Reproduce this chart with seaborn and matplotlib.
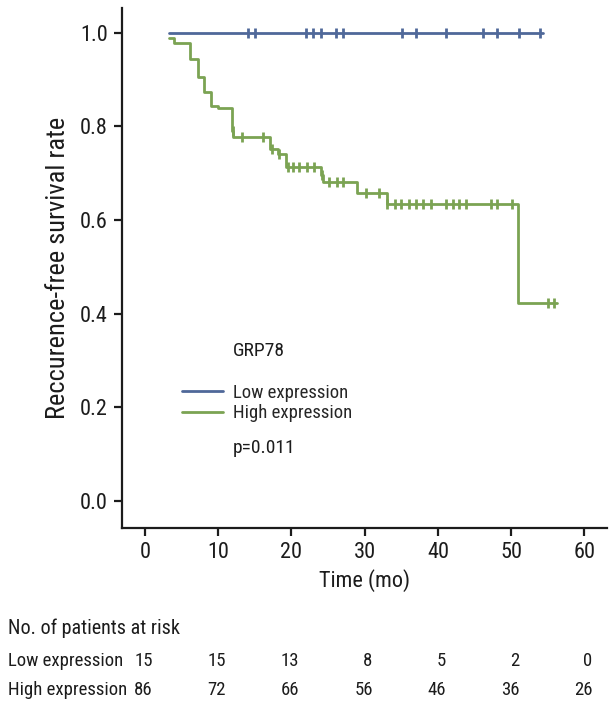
import os
import matplotlib
matplotlib.use("Agg")
import matplotlib.pyplot as plt
import matplotlib.transforms as mtransforms
from matplotlib import font_manager as fm
import seaborn as sns
import pandas as pd

# ---- data ----
low_step_time = [3.3, 54.3]
low_step_surv = [1.0, 1.0]
low_censor_time = [14.1, 15.0, 22.0, 23.0, 24.1, 26.1, 27.1, 35.1, 37.0, 41.1, 46.1, 48.1, 51.1, 54.0]
low_censor_surv = [1.0] * 14

high_step_time = [3.3, 4.0, 6.1, 7.3, 8.1, 9.0, 10.0, 11.9, 12.05, 17.1, 18.2, 19.2, 24.1, 24.3, 29.0, 33.0, 51.0, 56.2]
high_step_surv = [0.988, 0.977, 0.944, 0.906, 0.873, 0.844, 0.838, 0.790, 0.777, 0.752, 0.740, 0.714, 0.697, 0.681, 0.658, 0.635, 0.422, 0.422]
high_censor_time = [12.0, 13.2, 16.1, 17.3, 18.3, 19.5, 20.2, 21.1, 22.1, 23.1, 24.2, 25.2, 26.2, 27.1,
                    30.2, 32.0, 33.1, 34.1, 35.0, 36.0, 37.0, 37.9, 39.0, 41.1, 42.0, 42.9, 43.8,
                    47.2, 48.1, 50.1, 55.0, 55.9]
high_censor_surv = [0.790, 0.777, 0.777, 0.752, 0.740, 0.714, 0.714, 0.714, 0.714, 0.714, 0.697, 0.681, 0.681, 0.681,
                    0.658, 0.658, 0.635, 0.635, 0.635, 0.635, 0.635, 0.635, 0.635, 0.635, 0.635, 0.635, 0.635,
                    0.635, 0.635, 0.635, 0.422, 0.422]

risk_times = [0, 10, 20, 30, 40, 50, 60]
risk_low = [15, 15, 13, 8, 5, 2, 0]
risk_high = [86, 72, 66, 56, 46, 36, 26]
group_labels = ["Low expression", "High expression"]

BLUE = "#4f6899"
GREEN = "#7ba353"
INK = "#1c1c1c"

sns.set_style("ticks")

# choose a condensed / narrow font if one is installed
chosen = None
prefs = ["liberationsansnarrow-regular", "robotocondensed-regular", "dejavusanscondensed.ttf",
         "notosans-condensed", "opensans_condensed-regular", "opensanscondensed"]
files = [(os.path.basename(f.fname).lower(), f) for f in fm.fontManager.ttflist]
for p in prefs:
    for b, f in files:
        if b.startswith(p) or p in b:
            if "bold" in b or "italic" in b or "oblique" in b:
                continue
            chosen = f
            break
    if chosen:
        break
if chosen is None:
    for b, f in files:
        if ("narrow" in b or "condensed" in b) and not any(k in b for k in ["bold", "italic", "oblique", "light", "thin", "black", "medium", "semi", "extra"]):
            chosen = f
            break

if chosen is not None:
    plt.rcParams['font.family'] = [chosen.name, 'DejaVu Sans']
    plt.rcParams['font.stretch'] = chosen.stretch
    NARROW = True
else:
    plt.rcParams['font.family'] = ['Roboto', 'DejaVu Sans']
    NARROW = False

scale = 1.0 if NARROW else 0.85

fig = plt.figure(figsize=(6.12, 7.07), dpi=100)
ax = fig.add_axes([0.199, 0.253, 0.793, 0.736])

low_df = pd.DataFrame({"t": low_step_time, "s": low_step_surv})
high_df = pd.DataFrame({"t": high_step_time, "s": high_step_surv})

sns.lineplot(data=low_df, x="t", y="s", ax=ax, color=BLUE, lw=2.0, drawstyle="steps-post",
             estimator=None, sort=False, label=group_labels[0])
sns.lineplot(data=high_df, x="t", y="s", ax=ax, color=GREEN, lw=2.0, drawstyle="steps-post",
             estimator=None, sort=False, label=group_labels[1])

sns.scatterplot(x=low_censor_time, y=low_censor_surv, ax=ax, marker="|", s=45, linewidth=2.0, color=BLUE)
sns.scatterplot(x=high_censor_time, y=high_censor_surv, ax=ax, marker="|", s=45, linewidth=2.0, color=GREEN)

ax.set_xlim(-3.15, 63.1)
ax.set_ylim(-0.058, 1.053)
ax.set_xticks(risk_times)
ax.set_yticks([0.0, 0.2, 0.4, 0.6, 0.8, 1.0])
ax.set_yticklabels(["0.0", "0.2", "0.4", "0.6", "0.8", "1.0"])
for sp in ["top", "right"]:
    ax.spines[sp].set_visible(False)
for sp in ["left", "bottom"]:
    ax.spines[sp].set_linewidth(1.6)
    ax.spines[sp].set_color(INK)
ax.tick_params(axis="both", length=6, width=1.6, color=INK, labelsize=16 * scale, pad=4, labelcolor=INK)
ax.set_xlabel("Time (mo)", fontsize=16 * scale, color=INK, labelpad=4)
ax.set_ylabel("Reccurence-free survival rate", fontsize=19 * scale, color=INK, labelpad=7)

fs_leg = 13.5 * scale
ax.legend(loc="center left", bbox_to_anchor=(182 / 612, 1 - 403 / 707), bbox_transform=fig.transFigure,
          frameon=False, fontsize=fs_leg, handlelength=2.2, handletextpad=0.5, labelspacing=0.15,
          borderaxespad=0, borderpad=0)
fig.text(233 / 612, 1 - 351 / 707, "GRP78", fontsize=14 * scale, ha="left", va="center", color=INK)
fig.text(233 / 612, 1 - 448 / 707, "p=0.011", fontsize=14 * scale, ha="left", va="center", color=INK)

# risk table
fig.text(8 / 612, 1 - 628 / 707, "No. of patients at risk", fontsize=14.5 * scale, ha="left", va="center", color=INK)
fig.text(8 / 612, 1 - 661 / 707, group_labels[0], fontsize=13.5 * scale, ha="left", va="center", color=INK)
fig.text(8 / 612, 1 - 690 / 707, group_labels[1], fontsize=13.5 * scale, ha="left", va="center", color=INK)
trans = mtransforms.blended_transform_factory(ax.transData, fig.transFigure)
for t, lo, hi in zip(risk_times, risk_low, risk_high):
    ax.text(t + 1.1, 1 - 661 / 707, str(lo), transform=trans, fontsize=13.5 * scale, ha="right", va="center", color=INK, clip_on=False)
    ax.text(t + 1.1, 1 - 690 / 707, str(hi), transform=trans, fontsize=13.5 * scale, ha="right", va="center", color=INK, clip_on=False)

fig.savefig("out.png", dpi=100)
